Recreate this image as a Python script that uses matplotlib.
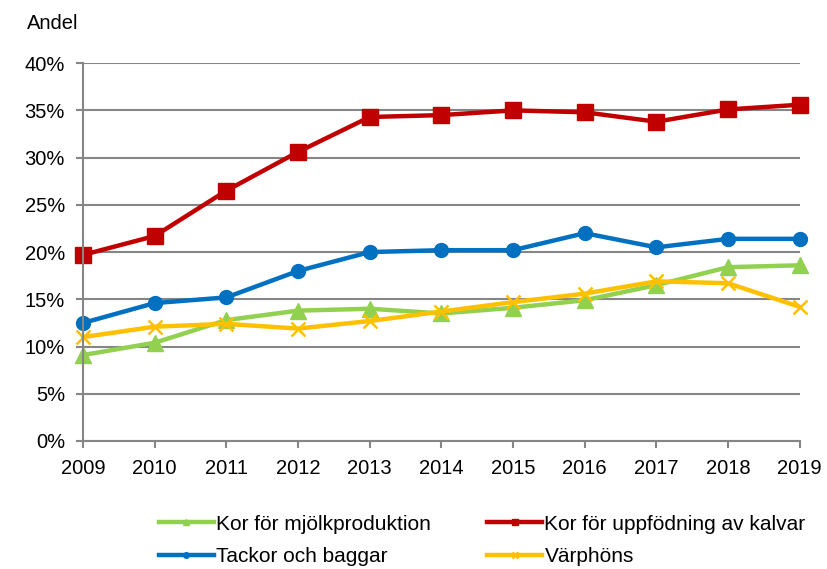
import numpy as np
import matplotlib
matplotlib.use("Agg")
import matplotlib.pyplot as plt
from matplotlib.ticker import FuncFormatter

plt.rcParams['font.family'] = ['Liberation Sans', 'DejaVu Sans']

years = [2009, 2010, 2011, 2012, 2013, 2014, 2015, 2016, 2017, 2018, 2019]
mjolk = [9.1, 10.4, 12.8, 13.8, 14.0, 13.5, 14.1, 14.9, 16.5, 18.4, 18.6]
kalvar = [19.7, 21.7, 26.5, 30.6, 34.3, 34.5, 35.0, 34.8, 33.8, 35.1, 35.6]
tackor = [12.5, 14.6, 15.2, 18.0, 20.0, 20.2, 20.2, 22.0, 20.5, 21.4, 21.4]
varphons = [11.0, 12.1, 12.4, 11.9, 12.7, 13.7, 14.7, 15.6, 16.9, 16.7, 14.2]

fig = plt.figure(figsize=(8.27, 5.69), dpi=100)
ax = fig.add_axes([0.1004, 0.225, 0.8666, 0.664])

lw = 3.2
l_kalv, = ax.plot(years, kalvar, color='#C00000', lw=lw, marker='s', ms=11,
                  label='Kor för uppfödning av kalvar')
l_tack, = ax.plot(years, tackor, color='#0070C0', lw=lw, marker='o', ms=10,
                  label='Tackor och baggar')
l_mjolk, = ax.plot(years, mjolk, color='#92D050', lw=lw, marker='^', ms=11,
                   label='Kor för mjölkproduktion')
l_varp, = ax.plot(years, varphons, color='#FFC000', lw=lw, marker='x', ms=10,
                  mew=1.8, label='Värphöns')

ax.set_xlim(2009, 2019)
ax.set_ylim(0, 40)
ax.set_xticks(years)
ax.set_yticks(np.arange(0, 41, 5))
ax.yaxis.set_major_formatter(FuncFormatter(lambda v, p: f'{v:.0f}%'))
ax.grid(axis='y', color='#868686', lw=1.5)
ax.set_axisbelow(True)
for s in ['top', 'right']:
    ax.spines[s].set_visible(False)
for s in ['left', 'bottom']:
    ax.spines[s].set_color('#868686')
    ax.spines[s].set_linewidth(1.5)
ax.tick_params(axis='both', colors='#868686', length=5, width=1.5,
               labelsize=14.5, labelcolor='black')
ax.tick_params(axis='x', pad=8)
ax.tick_params(axis='y', pad=8)
for line in ax.get_lines():
    line.set_clip_on(False)

fig.text(0.033, 0.958, 'Andel', fontsize=14.5, ha='left', va='center')

fig.legend(handles=[l_mjolk, l_tack, l_kalv, l_varp], ncol=2,
           loc='center', bbox_to_anchor=(0.583, 0.05), frameon=False,
           fontsize=15, handlelength=2.65, handletextpad=0.1,
           columnspacing=2.7, labelspacing=0.65, markerscale=0.4)

fig.savefig('out.png', dpi=100)
